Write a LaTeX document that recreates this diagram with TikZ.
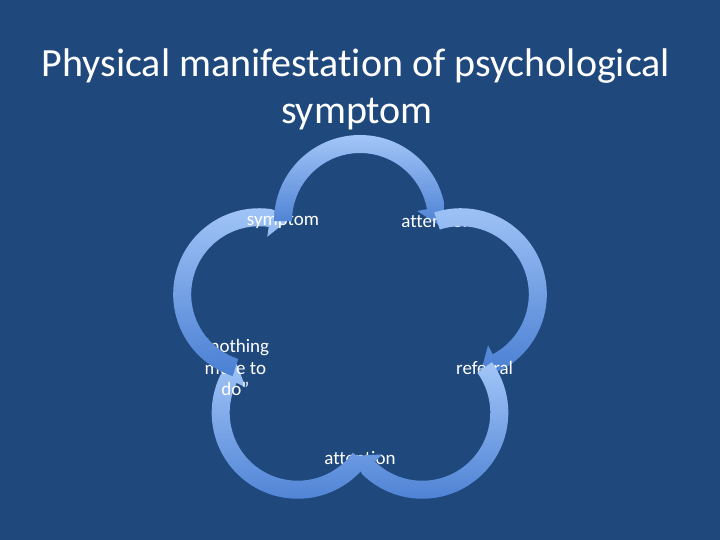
\documentclass[tikz,border=0pt]{standalone}
\usepackage{fontspec}
\setmainfont{Carlito}[Ligatures=NoCommon]
\usetikzlibrary{calc}
\definecolor{bgblue}{HTML}{1F497D}
\definecolor{arctop}{HTML}{A3C6F8}
\definecolor{arcbot}{HTML}{4A7FD3}
\newcommand\drawcyclearc[1]{%
  \pgfmathsetmacro\ph{90-72*#1}%
  \pgfmathtruncatemacro\kn{mod(#1+1,5)}%
  \pgfmathsetmacro\sa{\ph+90}%
  \pgfmathsetmacro\ba{\ph-80}%
  \pgfmathsetmacro\ta{\ph-95}%
  \coordinate (m#1) at ($(v#1)!0.5!(v\kn)$);
  \shade[arcshade] ($(m#1)+(\sa:86pt)$) arc[start angle=\sa, end angle=\ba, radius=86pt]
    -- ($(m#1)+(\ta:84pt)$) -- ($(m#1)+(\ba:58pt)$)
    -- ($(m#1)+(\ba:68pt)$) arc[start angle=\ba, end angle=\sa, radius=68pt] -- cycle;
}
\begin{document}
\begin{tikzpicture}[x=1pt,y=1pt,
  lbl/.style={text=white,font=\fontsize{19}{21.5}\selectfont,align=center,inner sep=0pt},
  ttl/.style={text=white,font=\fontsize{40}{44}\selectfont,inner sep=0pt,anchor=base},
  arcshade/.style={top color=arctop,bottom color=arcbot,draw=none}]
\fill[bgblue] (0,0) rectangle (720,540);
\useasboundingbox (0,0) rectangle (720,540);
\node[ttl] (t1) at (356,463) {Physical manifestation of psychological};
\node[ttl] (t2) at (357,416) {symptom};
\coordinate (cc) at (360,213);
\foreach \k in {0,...,4} {
  \pgfmathsetmacro\a{126-72*\k}
  \coordinate (v\k) at ($(cc)+(\a:131pt)$);
}
\node[lbl] (n3) at (v3) {attention};
\drawcyclearc{3}
\node[lbl] (n4) at (v4) {“nothing\\ more to\\ do”};
\drawcyclearc{4}
\node[lbl] (n0) at (v0) {symptom};
\drawcyclearc{0}
\node[lbl] (n1) at (v1) {attention};
\drawcyclearc{1}
\node[lbl] (n2) at (v2) {referral};
\drawcyclearc{2}
\end{tikzpicture}
\end{document}
